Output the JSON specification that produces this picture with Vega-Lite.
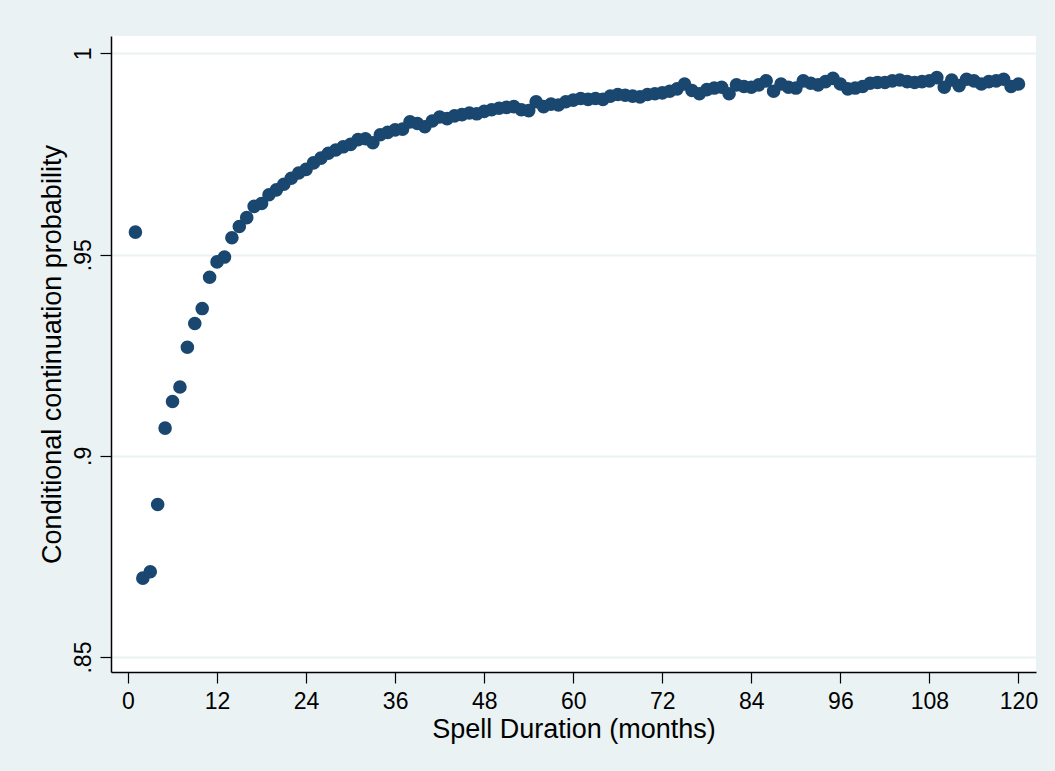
{
  "$schema": "https://vega.github.io/schema/vega-lite/v6.json",
  "width": 925,
  "height": 636,
  "autosize": {"type": "none"},
  "padding": {"left": 111, "top": 36, "right": 19, "bottom": 99},
  "background": "#EAF2F3",
  "config": {
    "view": {"fill": "white", "stroke": null},
    "font": "Liberation Sans"
  },
  "data": {
    "values": [
      {"month": 1, "p": 0.9556}, {"month": 2, "p": 0.8696}, {"month": 3, "p": 0.8712}, {"month": 4, "p": 0.8879},
      {"month": 5, "p": 0.9069}, {"month": 6, "p": 0.9135}, {"month": 7, "p": 0.9171}, {"month": 8, "p": 0.9270},
      {"month": 9, "p": 0.9329}, {"month": 10, "p": 0.9366}, {"month": 11, "p": 0.9444}, {"month": 12, "p": 0.9482},
      {"month": 13, "p": 0.9494}, {"month": 14, "p": 0.9542}, {"month": 15, "p": 0.9570}, {"month": 16, "p": 0.9592},
      {"month": 17, "p": 0.9620}, {"month": 18, "p": 0.9627}, {"month": 19, "p": 0.9649}, {"month": 20, "p": 0.9661},
      {"month": 21, "p": 0.9675}, {"month": 22, "p": 0.9690}, {"month": 23, "p": 0.9703}, {"month": 24, "p": 0.9712},
      {"month": 25, "p": 0.9728}, {"month": 26, "p": 0.9740}, {"month": 27, "p": 0.9752}, {"month": 28, "p": 0.9760},
      {"month": 29, "p": 0.9768}, {"month": 30, "p": 0.9774}, {"month": 31, "p": 0.9786}, {"month": 32, "p": 0.9788},
      {"month": 33, "p": 0.9778}, {"month": 34, "p": 0.9798}, {"month": 35, "p": 0.9804}, {"month": 36, "p": 0.9810},
      {"month": 37, "p": 0.9812}, {"month": 38, "p": 0.9830}, {"month": 39, "p": 0.9826}, {"month": 40, "p": 0.9818},
      {"month": 41, "p": 0.9832}, {"month": 42, "p": 0.9842}, {"month": 43, "p": 0.9838}, {"month": 44, "p": 0.9845},
      {"month": 45, "p": 0.9848}, {"month": 46, "p": 0.9852}, {"month": 47, "p": 0.9850}, {"month": 48, "p": 0.9856},
      {"month": 49, "p": 0.9860}, {"month": 50, "p": 0.9864}, {"month": 51, "p": 0.9866}, {"month": 52, "p": 0.9868},
      {"month": 53, "p": 0.9860}, {"month": 54, "p": 0.9858}, {"month": 55, "p": 0.9880}, {"month": 56, "p": 0.9868},
      {"month": 57, "p": 0.9874}, {"month": 58, "p": 0.9872}, {"month": 59, "p": 0.9880}, {"month": 60, "p": 0.9884},
      {"month": 61, "p": 0.9888}, {"month": 62, "p": 0.9886}, {"month": 63, "p": 0.9888}, {"month": 64, "p": 0.9886},
      {"month": 65, "p": 0.9894}, {"month": 66, "p": 0.9898}, {"month": 67, "p": 0.9896}, {"month": 68, "p": 0.9894},
      {"month": 69, "p": 0.9892}, {"month": 70, "p": 0.9898}, {"month": 71, "p": 0.9900}, {"month": 72, "p": 0.9902},
      {"month": 73, "p": 0.9906}, {"month": 74, "p": 0.9912}, {"month": 75, "p": 0.9924}, {"month": 76, "p": 0.9908},
      {"month": 77, "p": 0.9900}, {"month": 78, "p": 0.9910}, {"month": 79, "p": 0.9914}, {"month": 80, "p": 0.9916},
      {"month": 81, "p": 0.9900}, {"month": 82, "p": 0.9922}, {"month": 83, "p": 0.9918}, {"month": 84, "p": 0.9916},
      {"month": 85, "p": 0.9922}, {"month": 86, "p": 0.9932}, {"month": 87, "p": 0.9906}, {"month": 88, "p": 0.9924},
      {"month": 89, "p": 0.9916}, {"month": 90, "p": 0.9914}, {"month": 91, "p": 0.9932}, {"month": 92, "p": 0.9926},
      {"month": 93, "p": 0.9922}, {"month": 94, "p": 0.9930}, {"month": 95, "p": 0.9938}, {"month": 96, "p": 0.9924},
      {"month": 97, "p": 0.9912}, {"month": 98, "p": 0.9914}, {"month": 99, "p": 0.9918}, {"month": 100, "p": 0.9926},
      {"month": 101, "p": 0.9928}, {"month": 102, "p": 0.9928}, {"month": 103, "p": 0.9932}, {"month": 104, "p": 0.9934},
      {"month": 105, "p": 0.9930}, {"month": 106, "p": 0.9928}, {"month": 107, "p": 0.9930}, {"month": 108, "p": 0.9932},
      {"month": 109, "p": 0.9940}, {"month": 110, "p": 0.9916}, {"month": 111, "p": 0.9934}, {"month": 112, "p": 0.9920},
      {"month": 113, "p": 0.9936}, {"month": 114, "p": 0.9932}, {"month": 115, "p": 0.9924}, {"month": 116, "p": 0.9930},
      {"month": 117, "p": 0.9932}, {"month": 118, "p": 0.9936}, {"month": 119, "p": 0.9918}, {"month": 120, "p": 0.9924}
    ]
  },
  "mark": {"type": "circle", "color": "#1A476F", "size": 185, "opacity": 1},
  "encoding": {
    "x": {
      "field": "month",
      "type": "quantitative",
      "scale": {"domain": [-2.29, 122.36], "nice": false, "zero": false},
      "axis": {
        "values": [0, 12, 24, 36, 48, 60, 72, 84, 96, 108, 120],
        "title": "Spell Duration (months)",
        "grid": false,
        "domainColor": "#000000",
        "domainWidth": 1.5,
        "tickColor": "#000000",
        "tickWidth": 1.2,
        "tickSize": 11,
        "labelFontSize": 23,
        "labelColor": "#000000",
        "labelPadding": 7,
        "labelFont": "Liberation Sans",
        "titleFont": "Liberation Sans",
        "titleFontSize": 27,
        "titleFontWeight": "normal",
        "titleColor": "#000000",
        "titlePadding": 3
      }
    },
    "y": {
      "field": "p",
      "type": "quantitative",
      "scale": {"domain": [0.84628, 1.00434], "nice": false, "zero": false},
      "axis": {
        "values": [0.85, 0.9, 0.95, 1],
        "labelExpr": "replace(format(datum.value, '.2~f'), /^0/, '')",
        "title": "Conditional continuation probability",
        "grid": true,
        "gridColor": "#EAF2F3",
        "gridWidth": 2,
        "domainColor": "#000000",
        "domainWidth": 1.5,
        "tickColor": "#000000",
        "tickWidth": 1.2,
        "tickSize": 11,
        "labelAngle": -90,
        "labelAlign": "center",
        "labelBaseline": "alphabetic",
        "labelPadding": 10,
        "labelFontSize": 23,
        "labelColor": "#000000",
        "labelFont": "Liberation Sans",
        "titleFont": "Liberation Sans",
        "titleFontSize": 27,
        "titleFontWeight": "normal",
        "titleColor": "#000000",
        "titlePadding": 6
      }
    }
  }
}
